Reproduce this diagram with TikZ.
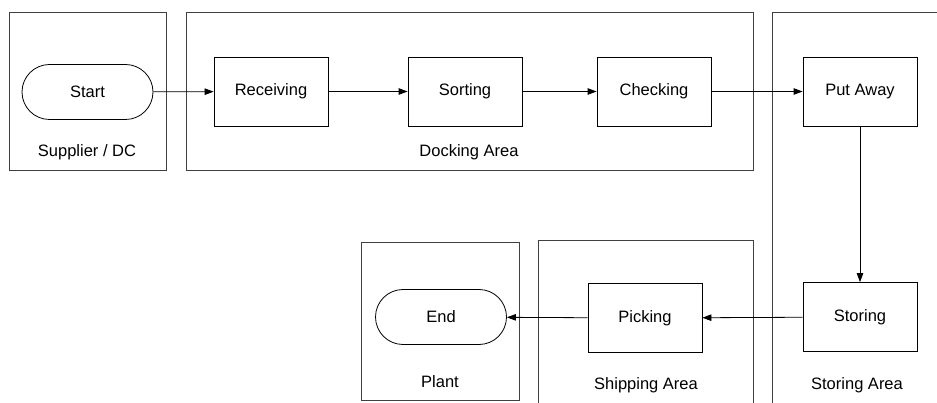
\documentclass[tikz,border=0pt]{standalone}
\usepackage{fontspec}
\setmainfont{Liberation Sans}
\usetikzlibrary{shapes.misc,arrows.meta}
\begin{document}
\begin{tikzpicture}[x=1pt,y=-1pt,
  every node/.style={font=\fontsize{16.5}{19}\selectfont},
  frame/.style={draw=black!75, line width=0.9pt},
  procbox/.style={draw, line width=0.8pt, minimum width=114pt, minimum height=69pt, inner sep=0pt},
  term/.style={draw, line width=0.8pt, rounded rectangle, minimum width=131pt, minimum height=55pt, inner sep=0pt},
  flow/.style={line width=0.8pt, -{Triangle[length=9pt,width=6.5pt]}},
  lbl/.style={inner sep=0pt}]
\useasboundingbox (0,0) rectangle (937,403);
% area frames
\draw[frame] (9,12) rectangle (166,170);
\draw[frame] (186,12) rectangle (753,170);
\draw[frame] (772,403) -- (772,12) -- (937,12);
\draw[frame] (361,242) rectangle (519,400);
\draw[frame] (538,403) -- (538,240) -- (753,240) -- (753,403);
% area labels
\node[lbl] (lsup) at (87,152) {Supplier / DC};
\node[lbl] (ldock) at (469,152) {Docking Area};
\node[lbl] (lplant) at (440,382) {Plant};
\node[lbl] (lship) at (646,385) {Shipping Area};
\node[lbl] (lstor) at (857,385) {Storing Area};
% nodes
\node[term] (start) at (87.5,92) {Start};
\node[procbox] (recv) at (271,91.5) {Receiving};
\node[procbox] (sort) at (465,91.5) {Sorting};
\node[procbox] (check) at (654,91.5) {Checking};
\node[procbox] (put) at (860,91.5) {Put Away};
\node[procbox] (stor) at (860,317) {Storing};
\node[procbox] (pick) at (645,318) {Picking};
\node[term] (end) at (441,317) {End};
% connectors
\draw[flow] (start) -- (recv);
\draw[flow] (recv) -- (sort);
\draw[flow] (sort) -- (check);
\draw[flow] (check) -- (put);
\draw[flow] (put) -- (stor);
\draw[flow] (stor) -- (pick);
\draw[flow] (pick) -- (end);
\end{tikzpicture}
\end{document}
